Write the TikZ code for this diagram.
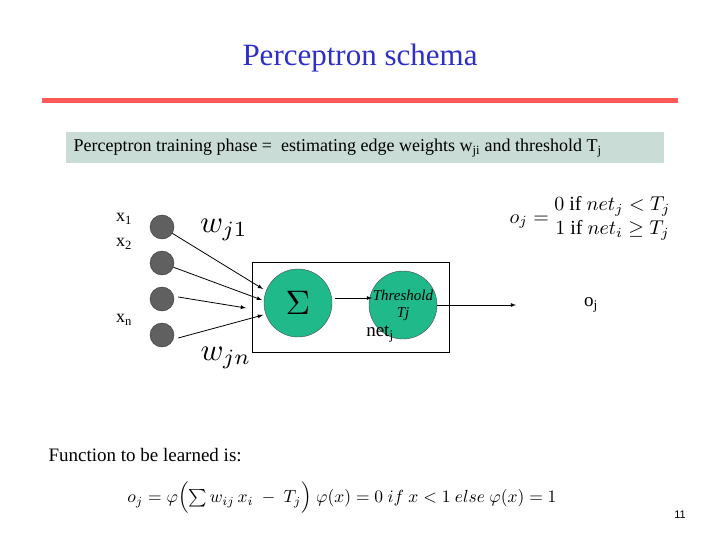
\documentclass[tikz,border=0pt]{standalone}
\usepackage{fontspec}
\usepackage{amsmath}
\usepackage{graphicx}
\setmainfont{Liberation Serif}
\newfontfamily\arialf{Liberation Sans}
\definecolor{tealc}{HTML}{20B98A}
\definecolor{phasec}{HTML}{C9DDD6}
\definecolor{titlec}{HTML}{2E2EC8}
\begin{document}
\begin{tikzpicture}[x=1pt,y=-1pt,
  inp/.style={circle,fill=gray!75!black,draw=gray!40!black,minimum size=24pt,inner sep=0pt},
  unit/.style={circle,fill=tealc,draw=black!70,minimum size=68pt,inner sep=0pt},
  arr/.style={-latex,thick}]
\useasboundingbox (0,0) rectangle (720,540);
\node[text=titlec,font=\fontsize{31}{34}\selectfont] (title) at (360,58) {Perceptron schema};
\draw[line width=5pt,red!65] (42,101) -- (678,101);
\node[fill=phasec,minimum width=598pt,minimum height=31pt,inner sep=0pt] (phase) at (365,147.5) {};
\node[anchor=west,font=\fontsize{18}{20}\selectfont] (ptext) at (70,148)
  {Perceptron training phase =\ \ estimating edge weights w\textsubscript{ji} and threshold T\textsubscript{j}};
\node[inp] (i1) at (162,227) {};
\node[inp] (i2) at (162,263) {};
\node[inp] (i3) at (162,299) {};
\node[inp] (i4) at (162,335) {};
\node[font=\fontsize{18}{20}\selectfont] (x1) at (124,219) {x\textsubscript{1}};
\node[font=\fontsize{18}{20}\selectfont] (x2) at (124,244) {x\textsubscript{2}};
\node[font=\fontsize{18}{20}\selectfont] (xn) at (124,320) {x\textsubscript{n}};
\node[draw,minimum width=197pt,minimum height=90pt,inner sep=0pt] (box) at (351,307) {};
\node[unit] (sig) at (298,303) {\scalebox{3.4}{$\Sigma$}};
\node[unit,align=center,font=\itshape\fontsize{15}{17}\selectfont] (thr) at (403,305) {Threshold\\Tj};
\coordinate (a1) at (263,289);
\coordinate (a2) at (262,300);
\coordinate (a3) at (246,308);
\coordinate (a4) at (263,315);
\draw[arr] (i1) -- (a1);
\draw[arr] (i2) -- (a2);
\draw[arr] (i3.east) ++(4,-2) coordinate (s3) -- (a3);
\draw[arr] (i4.east) ++(4,3) coordinate (s4) -- (a4);
\draw[arr] (sig.east) ++(3,-5) coordinate (s5) -- (372,298) coordinate (e5);
\node[font=\fontsize{19}{20}\selectfont] (oj) at (591,305) {o\textsubscript{j}};
\draw[arr] (thr.east) -- (516,305) coordinate (e6);
\node[font=\fontsize{19}{20}\selectfont] (net) at (380,334) {net\textsubscript{j}};
\node (w1) at (224,230) {\scalebox{3.1}{$w_{j1}$}};
\node (wn) at (226,358) {\scalebox{3.1}{$w_{jn}$}};
\node (oform) at (590,218) {\scalebox{2.0}{$o_j=\begin{matrix}0\ \mathrm{if}\ net_j<T_j\\ 1\ \mathrm{if}\ net_i\ge T_j\end{matrix}$}};
\node[anchor=west,font=\fontsize{19}{20}\selectfont] (fn) at (45,455) {Function to be learned is:};
\node (eq) at (342,498) {\scalebox{1.75}{$o_j=\varphi\Bigl(\sum w_{ij}\,x_i\ -\ T_j\Bigr)\ \varphi(x)=0\ if\ x<1\ else\ \varphi(x)=1$}};
\node[font=\arialf\fontsize{11}{12}\selectfont] (pg) at (680,515) {11};
\end{tikzpicture}
\end{document}
